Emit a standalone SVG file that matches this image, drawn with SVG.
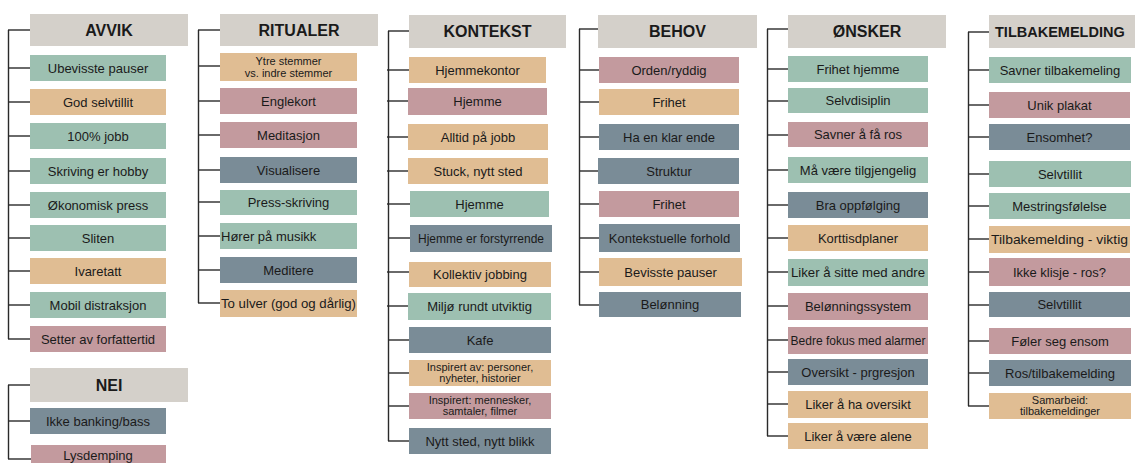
<svg xmlns="http://www.w3.org/2000/svg" width="1135" height="463" viewBox="0 0 1135 463">
<style>
text{font-family:"Liberation Sans",Arial,sans-serif;fill:#1a1a1a;text-anchor:middle}
.h rect{fill:#d4d0ca}
.h text{font-size:16px;font-weight:bold}
.g{fill:#9dc0b1}.o{fill:#e0bd93}.p{fill:#c39a9e}.b{fill:#7a8c97}
.t{font-size:13px}
.s{font-size:11px}
.conn line{stroke:#2a2a2a;stroke-width:1.4}
</style>
<rect width="1135" height="463" fill="#ffffff"/>
<g class="conn">
<line x1="8.5" y1="30" x2="8.5" y2="339"/>
<line x1="8" y1="30" x2="30" y2="30"/><line x1="8" y1="68" x2="30" y2="68"/><line x1="8" y1="102" x2="30" y2="102"/><line x1="8" y1="136" x2="30" y2="136"/><line x1="8" y1="171" x2="30" y2="171"/><line x1="8" y1="205" x2="30" y2="205"/><line x1="8" y1="238" x2="30" y2="238"/><line x1="8" y1="271" x2="30" y2="271"/><line x1="8" y1="305" x2="30" y2="305"/><line x1="8" y1="339" x2="30" y2="339"/>
<line x1="8.5" y1="385" x2="8.5" y2="459"/>
<line x1="8" y1="385" x2="30" y2="385"/><line x1="8" y1="421" x2="30" y2="421"/><line x1="8" y1="459" x2="31" y2="459"/>
<line x1="198.5" y1="30" x2="198.5" y2="303"/>
<line x1="198" y1="30" x2="220" y2="30"/><line x1="198" y1="66" x2="220" y2="66"/><line x1="198" y1="101" x2="220" y2="101"/><line x1="198" y1="135" x2="220" y2="135"/><line x1="198" y1="170" x2="220" y2="170"/><line x1="198" y1="202" x2="220" y2="202"/><line x1="198" y1="236" x2="220" y2="236"/><line x1="198" y1="270" x2="220" y2="270"/><line x1="198" y1="303" x2="220" y2="303"/>
<line x1="388.5" y1="31" x2="388.5" y2="441"/>
<line x1="388" y1="31" x2="409" y2="31"/><line x1="387" y1="70" x2="409" y2="70"/><line x1="387" y1="101" x2="408" y2="101"/><line x1="387" y1="137" x2="408" y2="137"/><line x1="387" y1="171" x2="408" y2="171"/><line x1="387" y1="204" x2="410" y2="204"/><line x1="388" y1="238" x2="410" y2="238"/><line x1="387" y1="272" x2="409" y2="272"/><line x1="387" y1="306" x2="408" y2="306"/><line x1="388" y1="340" x2="409" y2="340"/><line x1="388" y1="373" x2="409" y2="373"/><line x1="388" y1="406" x2="409" y2="406"/><line x1="388" y1="441" x2="409" y2="441"/>
<line x1="579.5" y1="29" x2="579.5" y2="305"/>
<line x1="579" y1="29" x2="598" y2="29"/><line x1="579" y1="70" x2="599" y2="70"/><line x1="579" y1="102" x2="599" y2="102"/><line x1="579" y1="137" x2="599" y2="137"/><line x1="579" y1="171" x2="599" y2="171"/><line x1="579" y1="204" x2="599" y2="204"/><line x1="579" y1="238" x2="599" y2="238"/><line x1="579" y1="272" x2="599" y2="272"/><line x1="579" y1="305" x2="599" y2="305"/>
<line x1="767.5" y1="29" x2="767.5" y2="436"/>
<line x1="767" y1="29" x2="788" y2="29"/><line x1="767" y1="69" x2="788" y2="69"/><line x1="767" y1="101" x2="788" y2="101"/><line x1="767" y1="135" x2="788" y2="135"/><line x1="767" y1="170" x2="788" y2="170"/><line x1="767" y1="205" x2="788" y2="205"/><line x1="767" y1="238" x2="788" y2="238"/><line x1="767" y1="272" x2="788" y2="272"/><line x1="767" y1="306" x2="788" y2="306"/><line x1="767" y1="340" x2="788" y2="340"/><line x1="767" y1="372" x2="788" y2="372"/><line x1="767" y1="404" x2="788" y2="404"/><line x1="767" y1="436" x2="788" y2="436"/>
<line x1="968.5" y1="32" x2="968.5" y2="406"/>
<line x1="968" y1="32" x2="989" y2="32"/><line x1="968" y1="70" x2="989" y2="70"/><line x1="968" y1="105" x2="989" y2="105"/><line x1="968" y1="137" x2="989" y2="137"/><line x1="968" y1="174" x2="989" y2="174"/><line x1="968" y1="206" x2="989" y2="206"/><line x1="968" y1="239" x2="989" y2="239"/><line x1="968" y1="272" x2="989" y2="272"/><line x1="968" y1="305" x2="989" y2="305"/><line x1="968" y1="341" x2="989" y2="341"/><line x1="968" y1="373" x2="989" y2="373"/><line x1="968" y1="406" x2="989" y2="406"/>
</g>

<g id="avvik">
<g class="h"><rect x="30" y="14" width="158" height="32"/><text x="109" y="36">AVVIK</text></g>
<rect class="g" x="30" y="55" width="136" height="26"/><text class="t" x="98" y="72.5">Ubevisste pauser</text>
<rect class="o" x="30" y="89" width="136" height="26"/><text class="t" x="98" y="106.5">God selvtillit</text>
<rect class="g" x="30" y="123" width="136" height="26"/><text class="t" x="98" y="140.5">100% jobb</text>
<rect class="g" x="30" y="158" width="136" height="26"/><text class="t" x="98" y="175.5">Skriving er hobby</text>
<rect class="g" x="30" y="192" width="136" height="26"/><text class="t" x="98" y="209.5">Økonomisk press</text>
<rect class="g" x="30" y="225" width="136" height="26"/><text class="t" x="98" y="242.5">Sliten</text>
<rect class="o" x="30" y="258" width="136" height="26"/><text class="t" x="98" y="275.5">Ivaretatt</text>
<rect class="g" x="30" y="292" width="136" height="26"/><text class="t" x="98" y="309.5">Mobil distraksjon</text>
<rect class="p" x="30" y="326" width="136" height="26"/><text class="t" x="98" y="343.5">Setter av forfattertid</text>
</g>

<g id="nei">
<g class="h"><rect x="30" y="368" width="158" height="34"/><text x="109" y="391">NEI</text></g>
<rect class="b" x="30" y="408" width="136" height="26"/><text class="t" x="98" y="425.5">Ikke banking/bass</text>
<rect class="p" x="31" y="445" width="135" height="18"/><text class="t" x="98" y="460">Lysdemping</text>
</g>

<g id="ritualer">
<g class="h"><rect x="220" y="14" width="158" height="32"/><text x="299" y="36">RITUALER</text></g>
<rect class="o" x="220" y="53" width="137" height="28"/><text class="s" x="288.5" y="65">Ytre stemmer</text><text class="s" x="288.5" y="77">vs. indre stemmer</text>
<rect class="p" x="220" y="88" width="137" height="26"/><text class="t" x="288.5" y="105.5">Englekort</text>
<rect class="p" x="220" y="122" width="137" height="26"/><text class="t" x="288.5" y="139.5">Meditasjon</text>
<rect class="b" x="220" y="157" width="137" height="26"/><text class="t" x="288.5" y="174.5">Visualisere</text>
<rect class="g" x="220" y="190" width="137" height="25"/><text class="t" x="288.5" y="207">Press-skriving</text>
<rect class="g" x="220" y="223" width="137" height="26"/><text class="t" x="221" y="240.5" style="text-anchor:start">Hører på musikk</text>
<rect class="b" x="220" y="257" width="137" height="26"/><text class="t" x="288.5" y="274.5">Meditere</text>
<rect class="o" x="220" y="290" width="137" height="27"/><text class="t" x="288.5" y="308" textLength="135" lengthAdjust="spacingAndGlyphs">To ulver (god og dårlig)</text>
</g>

<g id="kontekst">
<g class="h"><rect x="409" y="15" width="157" height="33"/><text x="487.5" y="37">KONTEKST</text></g>
<rect class="o" x="409" y="57" width="137" height="26"/><text class="t" x="477.5" y="74.5">Hjemmekontor</text>
<rect class="p" x="408" y="88" width="139" height="27"/><text class="t" x="477.5" y="106">Hjemme</text>
<rect class="o" x="408" y="124" width="140" height="26"/><text class="t" x="478" y="141.5">Alltid på jobb</text>
<rect class="o" x="408" y="158" width="140" height="26"/><text class="t" x="478" y="175.5">Stuck, nytt sted</text>
<rect class="g" x="410" y="191" width="139" height="26"/><text class="t" x="479.5" y="208.5">Hjemme</text>
<rect class="b" x="410" y="225" width="142" height="27"/><text class="t" x="481" y="243" style="font-size:12px">Hjemme er forstyrrende</text>
<rect class="o" x="409" y="262" width="142" height="25"/><text class="t" x="480" y="279">Kollektiv jobbing</text>
<rect class="g" x="408" y="293" width="143" height="27"/><text class="t" x="479.5" y="311">Miljø rundt utviktig</text>
<rect class="b" x="409" y="327" width="142" height="26"/><text class="t" x="480" y="344.5">Kafe</text>
<rect class="o" x="409" y="360" width="142" height="26"/><text class="s" x="480" y="371">Inspirert av: personer,</text><text class="s" x="480" y="382">nyheter, historier</text>
<rect class="p" x="409" y="393" width="142" height="26"/><text class="s" x="480" y="404">Inspirert: mennesker,</text><text class="s" x="480" y="415">samtaler, filmer</text>
<rect class="b" x="409" y="428" width="142" height="26"/><text class="t" x="480" y="445.5">Nytt sted, nytt blikk</text>
</g>

<g id="behov">
<g class="h"><rect x="598" y="15" width="159" height="33"/><text x="677.5" y="37">BEHOV</text></g>
<rect class="p" x="599" y="57" width="140" height="26"/><text class="t" x="669" y="74.5">Orden/ryddig</text>
<rect class="o" x="599" y="89" width="140" height="26"/><text class="t" x="669" y="106.5">Frihet</text>
<rect class="b" x="599" y="124" width="140" height="26"/><text class="t" x="669" y="141.5">Ha en klar ende</text>
<rect class="b" x="598" y="158" width="141" height="26"/><text class="t" x="669" y="175.5">Struktur</text>
<rect class="p" x="599" y="191" width="140" height="26"/><text class="t" x="669" y="208.5">Frihet</text>
<rect class="b" x="599" y="224" width="141" height="28"/><text class="t" x="669.5" y="242.5">Kontekstuelle forhold</text>
<rect class="o" x="599" y="258" width="143" height="28"/><text class="t" x="670.5" y="276.5">Bevisste pauser</text>
<rect class="b" x="599" y="292" width="142" height="25"/><text class="t" x="670" y="309">Belønning</text>
</g>

<g id="onsker">
<g class="h"><rect x="788" y="15" width="158" height="33"/><text x="867" y="37">ØNSKER</text></g>
<rect class="g" x="788" y="56" width="140" height="26"/><text class="t" x="858" y="73.5">Frihet hjemme</text>
<rect class="g" x="788" y="88" width="140" height="25"/><text class="t" x="858" y="105">Selvdisiplin</text>
<rect class="p" x="788" y="122" width="140" height="25"/><text class="t" x="858" y="139">Savner å få ros</text>
<rect class="g" x="788" y="157" width="140" height="26"/><text class="t" x="858" y="174.5">Må være tilgjengelig</text>
<rect class="b" x="788" y="192" width="140" height="26"/><text class="t" x="858" y="209.5">Bra oppfølging</text>
<rect class="o" x="788" y="225" width="140" height="26"/><text class="t" x="858" y="242.5">Korttisdplaner</text>
<rect class="g" x="788" y="259" width="140" height="27"/><text class="t" x="858" y="277" textLength="134" lengthAdjust="spacingAndGlyphs">Liker å sitte med andre</text>
<rect class="p" x="788" y="293" width="140" height="27"/><text class="t" x="858" y="311">Belønningssystem</text>
<rect class="p" x="788" y="327" width="140" height="27"/><text class="t" x="858" y="345" textLength="135" lengthAdjust="spacingAndGlyphs">Bedre fokus med alarmer</text>
<rect class="b" x="788" y="359" width="140" height="26"/><text class="t" x="858" y="376.5">Oversikt - prgresjon</text>
<rect class="o" x="788" y="391" width="140" height="27"/><text class="t" x="858" y="409">Liker å ha oversikt</text>
<rect class="o" x="788" y="423" width="140" height="26"/><text class="t" x="858" y="440.5">Liker å være alene</text>
</g>

<g id="tilbakemelding">
<g class="h"><rect x="989" y="15" width="146" height="33"/><text x="995" y="37" style="text-anchor:start;font-size:14.5px">TILBAKEMELDING</text></g>
<rect class="g" x="989" y="57" width="142" height="26"/><text class="t" x="1060" y="74.5">Savner tilbakemeling</text>
<rect class="p" x="989" y="92" width="141" height="26"/><text class="t" x="1059.5" y="109.5">Unik plakat</text>
<rect class="b" x="989" y="124" width="141" height="26"/><text class="t" x="1059.5" y="141.5">Ensomhet?</text>
<rect class="g" x="989" y="161" width="142" height="26"/><text class="t" x="1060" y="178.5">Selvtillit</text>
<rect class="g" x="989" y="193" width="141" height="26"/><text class="t" x="1059.5" y="210.5">Mestringsfølelse</text>
<rect class="o" x="989" y="226" width="141" height="27"/><text class="t" x="1059.5" y="244" textLength="137" lengthAdjust="spacingAndGlyphs">Tilbakemelding - viktig</text>
<rect class="p" x="989" y="258" width="141" height="28"/><text class="t" x="1059.5" y="276.5">Ikke klisje - ros?</text>
<rect class="b" x="989" y="292" width="141" height="25"/><text class="t" x="1059.5" y="309">Selvtillit</text>
<rect class="p" x="989" y="328" width="142" height="26"/><text class="t" x="1060" y="345.5">Føler seg ensom</text>
<rect class="b" x="989" y="360" width="142" height="26"/><text class="t" x="1060" y="377.5">Ros/tilbakemelding</text>
<rect class="o" x="989" y="393" width="142" height="26"/><text class="s" x="1060" y="404">Samarbeid:</text><text class="s" x="1060" y="415">tilbakemeldinger</text>
</g>
</svg>
